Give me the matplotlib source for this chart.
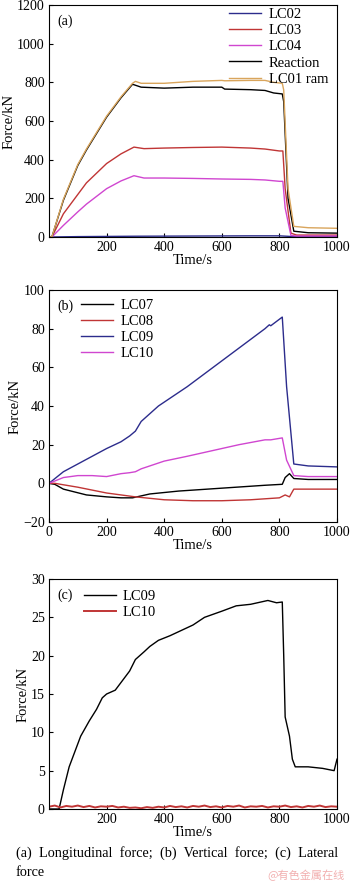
import numpy as np
import matplotlib
matplotlib.use("Agg")
from matplotlib import pyplot as plt

# ---- panel (a): longitudinal force ----
ta = [0, 10, 50, 100, 130, 200, 250, 290, 300, 320, 400, 500, 600, 610, 700, 750, 780, 810, 815, 830, 850, 900, 1000]
a_reaction = [0, 0, 190, 370, 450, 620, 720, 790, 785, 775, 770, 775, 775, 765, 762, 758, 745, 740, 700, 200, 30, 22, 20]
a_ram = [0, 0, 195, 375, 455, 625, 725, 795, 805, 795, 795, 805, 810, 808, 810, 810, 800, 795, 760, 250, 55, 48, 45]
ta3 = [0, 10, 50, 100, 130, 200, 250, 295, 330, 400, 500, 600, 700, 750, 800, 812, 820, 840, 860, 1000]
a_lc03 = [0, 0, 120, 220, 280, 380, 430, 465, 457, 460, 463, 465, 460, 455, 445, 445, 250, 20, 10, 10]
a_lc04 = [0, 0, 60, 130, 170, 250, 290, 317, 305, 305, 303, 300, 298, 295, 288, 288, 150, 8, 5, 5]
tb2 = [0, 100, 300, 500, 700, 800, 850, 1000]
a_lc02 = [0, 2, 4, 5, 6, 6, 2, 2]

# ---- panel (b): vertical force ----
tb = [0, 50, 100, 150, 200, 250, 280, 300, 320, 350, 380, 400, 480, 570, 660, 750, 765, 770, 810, 825, 850, 900, 1000]
b_lc09 = [0, 6, 10, 14, 18, 21.5, 24.5, 27, 32, 36, 40, 42, 50, 60, 70, 80, 82, 81.5, 86, 50, 10, 9, 8.5]
b_lc10 = [0, 3, 4, 4, 3.5, 5, 5.5, 6, 7.5, 9, 10.5, 11.5, 14, 17, 20, 22.5, 22.5, 22.5, 23.5, 12, 4, 3.5, 3.5]
tb7 = [0, 20, 50, 130, 200, 250, 290, 320, 350, 450, 600, 750, 810, 820, 835, 850, 900, 1000]
b_lc07 = [0, -0.5, -3, -6, -7, -7.5, -7.5, -6.5, -5.5, -4, -2.5, -1, -0.5, 3, 5, 2.5, 2, 2]
tb8 = [0, 20, 100, 200, 300, 400, 500, 600, 700, 800, 820, 835, 850, 900, 1000]
b_lc08 = [0, 0, -2, -5, -7, -8.5, -9, -9, -8.5, -7.5, -6, -7, -3, -3, -3]

# ---- panel (c): lateral force ----
tc = [0, 35, 50, 70, 90, 110, 140, 165, 185, 200, 230, 260, 280, 300, 330, 350, 380, 420, 460, 500,
      540, 600, 650, 700, 760, 790, 810, 815, 820, 835, 845, 855, 900, 950, 990, 1000]
c_lc09 = [0, 0, 2.5, 5.5, 7.5, 9.5, 11.5, 13, 14.5, 15, 15.5, 17, 18, 19.5, 20.5, 21.2, 22, 22.6, 23.3, 24,
          25, 25.8, 26.5, 26.7, 27.2, 26.9, 27, 20, 12, 9.5, 6.5, 5.5, 5.5, 5.3, 5, 6.5]
tc10 = [0, 20, 40, 60, 80, 100, 120, 140, 160, 180, 200, 220, 240, 260, 280, 300, 320, 340, 360, 380,
        400, 420, 440, 460, 480, 500, 520, 540, 560, 580, 600, 620, 640, 660, 680, 700, 720, 740, 760,
        780, 800, 820, 840, 860, 880, 900, 920, 940, 960, 980, 1000]
c_lc10 = [0.3, 0.45, 0.2, 0.4, 0.3, 0.45, 0.25, 0.4, 0.2, 0.35, 0.3, 0.4, 0.2, 0.3, 0.15, 0.2, 0.1, 0.25, 0.15, 0.3,
          0.2, 0.4, 0.25, 0.35, 0.2, 0.4, 0.3, 0.45, 0.25, 0.35, 0.2, 0.4, 0.3, 0.45, 0.2, 0.35, 0.3, 0.4, 0.2,
          0.35, 0.3, 0.45, 0.25, 0.35, 0.2, 0.4, 0.3, 0.45, 0.25, 0.35, 0.3]

NAVY = "#2c2c8c"
RED = "#c03535"
MAG = "#d046d0"
TAN = "#d9a55c"

plt.rcParams["font.family"] = ["Liberation Serif", "DejaVu Serif"]
plt.rcParams["font.size"] = 10

W, H = 350, 884
fig = plt.figure(figsize=(W / 100, H / 100), dpi=100)


def make_axes(top, bottom):
    ax = fig.add_axes([49 / W, (H - bottom) / H, 288 / W, (bottom - top) / H])
    ax.tick_params(direction="in", length=3, labelsize=10, pad=3)
    ax.set_xlabel("Time/s", labelpad=0, fontsize=10.5)
    ax.set_ylabel("Force/kN", labelpad=1, fontsize=10.5)
    return ax


leg_kw = dict(frameon=False, handlelength=2.2, fontsize=10.5, labelspacing=0.2,
              borderaxespad=0.2, handletextpad=0.5)

# (a)
ax = make_axes(5, 237)
ax.plot(tb2, a_lc02, color=NAVY, lw=1, label="LC02")
ax.plot(ta3, a_lc03, color=RED, lw=1, label="LC03")
ax.plot(ta3, a_lc04, color=MAG, lw=1, label="LC04")
ax.plot(ta, a_reaction, color="black", lw=1, label="Reaction")
ax.plot(ta, a_ram, color=TAN, lw=1, label="LC01 ram")
ax.set_xlim(0, 1000)
ax.set_ylim(0, 1200)
ax.set_xticks([200, 400, 600, 800, 1000])
ax.set_yticks(range(0, 1201, 200))
ax.text(0.03, 0.96, "(a)", transform=ax.transAxes, va="top", fontsize=10)
ax.legend(loc="upper right", bbox_to_anchor=(1.0, 1.025), **leg_kw)

# (b)
ax = make_axes(290, 522)
ax.plot(tb7, b_lc07, color="black", lw=1, label="LC07")
ax.plot(tb8, b_lc08, color=RED, lw=1, label="LC08")
ax.plot(tb, b_lc09, color=NAVY, lw=1, label="LC09")
ax.plot(tb, b_lc10, color=MAG, lw=1, label="LC10")
ax.set_xlim(0, 1000)
ax.set_ylim(-20, 100)
ax.set_xticks(range(0, 1001, 200))
ax.set_yticks(range(-20, 101, 20))
ax.text(0.03, 0.96, "(b)", transform=ax.transAxes, va="top", fontsize=10)
ax.legend(loc="upper left", bbox_to_anchor=(0.08, 1.0), **leg_kw)

# (c)
ax = make_axes(579, 809)
ax.plot(tc, c_lc09, color="black", lw=1, label="LC09")
ax.plot(tc10, c_lc10, color=RED, lw=1.4, label="LC10")
ax.set_xlim(0, 1000)
ax.set_ylim(0, 30)
ax.set_xticks([200, 400, 600, 800, 1000])
ax.set_yticks(range(0, 31, 5))
ax.text(0.03, 0.96, "(c)", transform=ax.transAxes, va="top", fontsize=10)
ax.legend(loc="upper left", bbox_to_anchor=(0.09, 0.99), **leg_kw)

# caption
fig.text(16 / W, 1 - 853 / H, "(a)  Longitudinal  force;  (b)  Vertical  force;  (c)  Lateral",
         fontsize=10.3, va="center")
fig.text(16 / W, 1 - 873 / H, "force", fontsize=10.3, va="center")
fig.text(345 / W, 1 - 875 / H, "@有色金属在线", fontsize=8, va="center", ha="right",
         color="#f2b0b0", family=["Noto Sans CJK SC", "DejaVu Sans"])

fig.savefig("out.png", dpi=100)
